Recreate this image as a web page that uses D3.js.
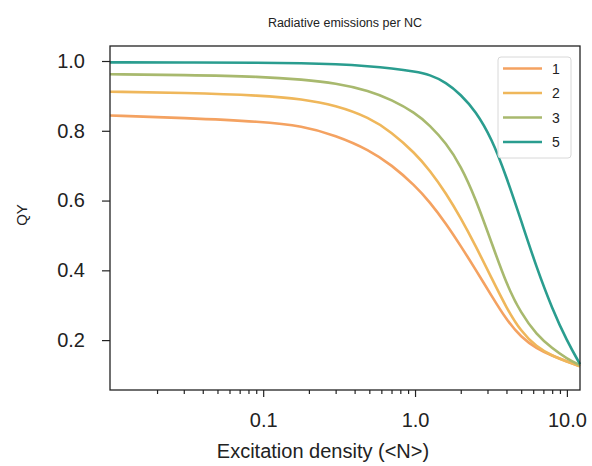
<!DOCTYPE html>
<html>
<head>
<meta charset="utf-8">
<script src="https://cdn.jsdelivr.net/npm/d3@7"></script>
<style>
  body { margin: 0; background: #fff; }
  text { font-family: "Liberation Sans", Arial, sans-serif; fill: #222; }
</style>
</head>
<body>
<div id="chart"></div>
<script>
// excitation density <N> (x) and QY for each curve
var density = [0.0098, 0.03, 0.1, 0.18, 0.3, 0.5, 0.7, 1.0, 1.25, 1.6, 2.0, 2.5, 3.2, 4.0, 5.0, 6.3, 8.0, 10, 12.2];
var qy1 = [0.844, 0.837, 0.826, 0.814, 0.787, 0.745, 0.702, 0.643, 0.596, 0.534, 0.470, 0.403, 0.326, 0.258, 0.208, 0.176, 0.155, 0.139, 0.125];
var qy2 = [0.912, 0.909, 0.901, 0.891, 0.873, 0.838, 0.796, 0.736, 0.687, 0.621, 0.550, 0.471, 0.377, 0.292, 0.224, 0.181, 0.155, 0.138, 0.125];
var qy3 = [0.962, 0.960, 0.955, 0.947, 0.937, 0.915, 0.889, 0.852, 0.816, 0.765, 0.700, 0.607, 0.478, 0.360, 0.276, 0.216, 0.176, 0.147, 0.128];
var qy5 = [0.996, 0.996, 0.995, 0.994, 0.991, 0.985, 0.979, 0.970, 0.961, 0.939, 0.904, 0.857, 0.778, 0.668, 0.542, 0.409, 0.290, 0.198, 0.131];

var seriesNames = ["1", "2", "3", "5"];
var seriesValues = [qy1, qy2, qy3, qy5];
var seriesColors = ["#f4a261", "#efb75b", "#a8b96e", "#2a9d8f"];

var yTicks = [0.2, 0.4, 0.6, 0.8, 1.0];
var xMajor = [0.1, 1, 10];
var xMinor = [0.02, 0.03, 0.04, 0.05, 0.06, 0.07, 0.08, 0.09,
              0.2, 0.3, 0.4, 0.5, 0.6, 0.7, 0.8, 0.9,
              2, 3, 4, 5, 6, 7, 8, 9];

var margin = {top: 46, right: 12, bottom: 76, left: 110},
    width = 592 - margin.left - margin.right,
    height = 466 - margin.top - margin.bottom;

var root = d3.select("#chart")
    .append("svg")
    .attr("width", 592)
    .attr("height", 466);

var svg = root.append("g")
    .attr("transform", "translate(" + margin.left + "," + margin.top + ")");

var x = d3.scaleLog()
    .domain([0.0098, 12.2])
    .range([0, width]);

var y = d3.scaleLinear()
    .domain([0.057, 1.043])
    .range([height, 0]);

// curves
var line = d3.line()
    .x(function (d) { return x(d[0]); })
    .y(function (d) { return y(d[1]); })
    .curve(d3.curveBasis);

svg.append("g")
    .selectAll("path")
    .data(seriesValues)
    .enter()
    .append("path")
    .attr("fill", "none")
    .attr("stroke", function (d, i) { return seriesColors[i]; })
    .attr("stroke-width", 2.6)
    .attr("d", function (d) { return line(density.map(function (v, j) { return [v, d[j]]; })); });

// axes
var yAxis = svg.append("g")
    .call(d3.axisLeft(y).tickValues(yTicks).tickFormat(d3.format(".1f")).tickSize(8).tickPadding(17));

var xAxis = svg.append("g")
    .attr("transform", "translate(0," + height + ")")
    .call(d3.axisBottom(x).tickValues(xMajor).tickFormat(d3.format(".1f")).tickSize(7).tickPadding(16));

svg.append("g")
    .attr("transform", "translate(0," + height + ")")
    .call(d3.axisBottom(x).tickValues(xMinor).tickFormat("").tickSize(4))
    .select(".domain").remove();

svg.selectAll(".tick line").attr("stroke", "#222").attr("stroke-width", 1.2);
svg.selectAll(".domain").remove();
yAxis.selectAll("text").style("font-size", "20px");
xAxis.selectAll("text").style("font-size", "20px");

// frame
svg.append("rect")
    .attr("width", width)
    .attr("height", height)
    .attr("fill", "none")
    .attr("stroke", "#222")
    .attr("stroke-width", 1.3);

// labels
root.append("text")
    .attr("x", 345)
    .attr("y", 27)
    .attr("text-anchor", "middle")
    .style("font-size", "12.5px")
    .text("Radiative emissions per NC");

root.append("text")
    .attr("x", 323)
    .attr("y", 458)
    .attr("text-anchor", "middle")
    .style("font-size", "20px")
    .text("Excitation density (<N>)");

root.append("text")
    .attr("transform", "translate(27,215) rotate(-90)")
    .attr("text-anchor", "middle")
    .style("font-size", "15px")
    .text("QY");

// legend
var legend = svg.append("g")
    .attr("transform", "translate(" + (498 - margin.left) + "," + (57 - margin.top) + ")");

legend.append("rect")
    .attr("width", 73)
    .attr("height", 101)
    .attr("rx", 3)
    .attr("fill", "#fff")
    .attr("fill-opacity", 0.8)
    .attr("stroke", "#d8d8d8");

var item = legend.selectAll(".item")
    .data(seriesNames)
    .enter()
    .append("g")
    .attr("transform", function (d, i) { return "translate(0," + (11.5 + i * 24.5) + ")"; });

item.append("line")
    .attr("x1", 5)
    .attr("x2", 44)
    .attr("stroke", function (d, i) { return seriesColors[i]; })
    .attr("stroke-width", 2.6);

item.append("text")
    .attr("x", 54)
    .attr("dy", "0.36em")
    .style("font-size", "14px")
    .text(function (d) { return d; });
</script>
</body>
</html>
